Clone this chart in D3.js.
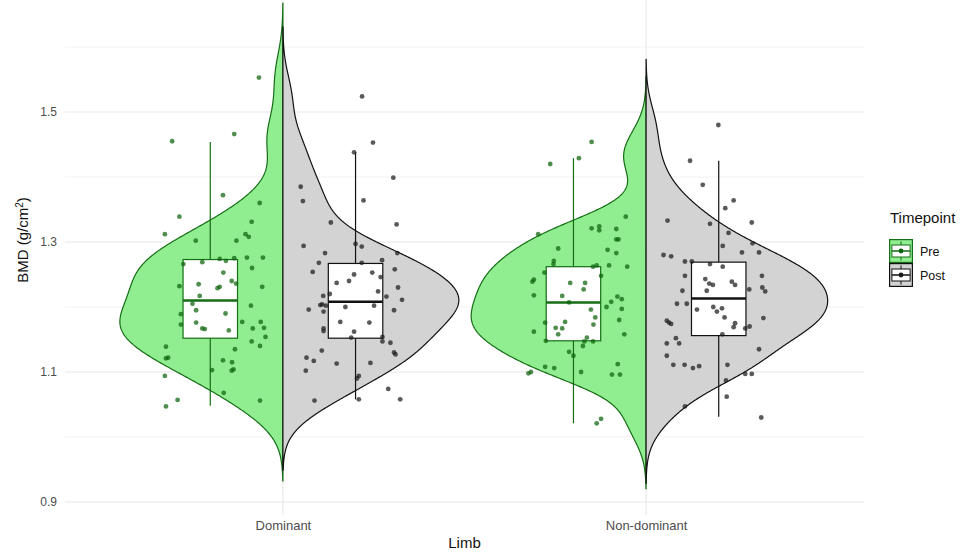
<!DOCTYPE html>
<html>
<head>
<meta charset="utf-8">
<script src="https://cdn.jsdelivr.net/npm/d3@7"></script>
<style>
  body { margin: 0; background: #ffffff; }
  text { font-family: "Liberation Sans", Arial, Helvetica, sans-serif; }
</style>
</head>
<body>
<svg id="chart" width="962" height="554"></svg>
<script>
// ---- data -------------------------------------------------------------
const limbs = ["Dominant", "Non-dominant"];
const timepoints = ["Pre", "Post"];

// BMD (g/cm²) of every participant, one array per limb × timepoint
const domPreBMD = [1.553,1.466,1.455,1.372,1.360,1.339,1.331,1.312,1.312,1.308,
  1.302,1.302,1.276,1.276,1.274,1.271,1.275,1.269,1.266,1.260,
  1.253,1.240,1.236,1.235,1.232,1.231,1.229,1.231,1.217,1.205,
  1.202,1.195,1.190,1.189,1.177,1.177,1.176,1.173,1.168,1.167,
  1.167,1.166,1.164,1.154,1.147,1.140,1.139,1.135,1.122,1.121,
  1.118,1.115,1.104,1.103,1.102,1.094,1.068,1.057,1.056,1.047];
const domPostBMD = [1.524,1.453,1.438,1.399,1.385,1.363,1.364,1.327,1.330,1.294,
  1.297,1.293,1.283,1.268,1.254,1.268,1.272,1.283,1.258,1.250,
  1.253,1.246,1.240,1.237,1.230,1.224,1.211,1.216,1.217,1.220,
  1.204,1.203,1.202,1.196,1.193,1.200,1.202,1.195,1.177,1.176,
  1.167,1.163,1.162,1.153,1.154,1.147,1.145,1.133,1.130,1.127,
  1.122,1.117,1.113,1.114,1.102,1.094,1.090,1.074,1.056,1.058,1.058];
const nonDomPreBMD = [1.454,1.429,1.420,1.339,1.321,1.324,1.318,1.320,1.312,1.304,
  1.304,1.290,1.288,1.283,1.271,1.266,1.262,1.264,1.264,1.262,
  1.253,1.248,1.239,1.242,1.237,1.237,1.227,1.218,1.217,1.207,
  1.200,1.208,1.216,1.212,1.196,1.197,1.184,1.177,1.176,1.180,
  1.173,1.168,1.167,1.158,1.162,1.158,1.153,1.147,1.140,1.148,
  1.147,1.131,1.125,1.108,1.106,1.100,1.098,1.100,1.096,1.096,
  1.112,1.028,1.021];
const nonDomPostBMD = [1.480,1.425,1.388,1.364,1.352,1.333,1.328,1.330,1.314,1.298,
  1.294,1.280,1.278,1.284,1.284,1.270,1.270,1.266,1.262,1.248,
  1.243,1.236,1.234,1.239,1.234,1.248,1.230,1.224,1.227,1.225,
  1.225,1.205,1.205,1.196,1.200,1.193,1.198,1.184,1.175,1.169,
  1.167,1.170,1.183,1.179,1.176,1.174,1.158,1.152,1.144,1.144,
  1.125,1.135,1.111,1.111,1.106,1.109,1.111,1.097,1.097,1.087,
  1.062,1.047,1.030];

// horizontal jitter of each point, in category units from the limb centre
const domPreJitter = [-0.066,-0.134,-0.305,-0.165,-0.064,-0.285,-0.086,-0.325,-0.103,-0.094,
  -0.240,-0.128,-0.099,-0.055,-0.174,-0.157,-0.134,-0.222,-0.274,-0.085,
  -0.164,-0.141,-0.129,-0.232,-0.285,-0.174,-0.180,-0.057,-0.229,-0.249,
  -0.088,-0.239,-0.158,-0.281,-0.112,-0.061,-0.239,-0.281,-0.052,-0.222,
  -0.083,-0.215,-0.149,-0.048,-0.086,-0.063,-0.322,-0.132,-0.316,-0.322,
  -0.165,-0.140,-0.136,-0.195,-0.141,-0.325,-0.163,-0.290,-0.063,-0.322];
const domPostJitter = [0.218,0.248,0.196,0.304,0.049,0.055,0.222,0.313,0.132,0.057,
  0.200,0.217,0.116,0.099,0.082,0.217,0.273,0.315,0.308,0.196,
  0.246,0.269,0.182,0.148,0.317,0.262,0.328,0.285,0.111,0.129,
  0.108,0.103,0.118,0.071,0.112,0.172,0.251,0.306,0.158,0.238,
  0.112,0.112,0.196,0.188,0.274,0.274,0.296,0.107,0.306,0.310,
  0.065,0.085,0.148,0.241,0.063,0.209,0.204,0.290,0.087,0.209,0.323];
const nonDomPreJitter = [-0.150,-0.185,-0.264,-0.056,-0.150,-0.129,-0.129,-0.082,-0.297,-0.082,
  -0.076,-0.242,-0.106,-0.082,-0.254,-0.255,-0.146,-0.136,-0.102,-0.052,
  -0.280,-0.124,-0.313,-0.309,-0.209,-0.168,-0.172,-0.309,-0.231,-0.212,
  -0.109,-0.096,-0.079,-0.067,-0.152,-0.067,-0.140,-0.223,-0.278,-0.074,
  -0.145,-0.249,-0.231,-0.242,-0.309,-0.060,-0.163,-0.170,-0.174,-0.276,
  -0.146,-0.212,-0.200,-0.278,-0.253,-0.179,-0.324,-0.317,-0.094,-0.072,
  -0.078,-0.124,-0.136];
const nonDomPostJitter = [0.199,0.121,0.156,0.241,0.218,0.059,0.176,0.291,0.227,0.293,
  0.211,0.048,0.069,0.264,0.311,0.107,0.126,0.176,0.211,0.107,
  0.163,0.174,0.184,0.236,0.245,0.319,0.320,0.328,0.284,0.167,
  0.100,0.085,0.112,0.140,0.185,0.195,0.209,0.216,0.245,0.241,
  0.273,0.285,0.323,0.057,0.063,0.069,0.210,0.082,0.091,0.057,
  0.057,0.311,0.075,0.106,0.129,0.146,0.224,0.273,0.291,0.220,
  0.222,0.107,0.317];

// box-plot summaries: [lower whisker, Q1, median, Q3, upper whisker]
const domPreBox     = [1.048, 1.152, 1.210, 1.273, 1.454];
const domPostBox    = [1.058, 1.152, 1.208, 1.267, 1.438];
const nonDomPreBox  = [1.021, 1.148, 1.207, 1.262, 1.429];
const nonDomPostBox = [1.031, 1.156, 1.213, 1.269, 1.425];

const yTicks = [0.9, 1.1, 1.3, 1.5];
const yMinorTicks = [1.0, 1.2, 1.4, 1.6];

// ---- assembled groups -------------------------------------------------
const groups = [
  { limb: "Dominant",     time: "Pre",  values: domPreBMD,     jitter: domPreJitter,     box: domPreBox },
  { limb: "Dominant",     time: "Post", values: domPostBMD,    jitter: domPostJitter,    box: domPostBox },
  { limb: "Non-dominant", time: "Pre",  values: nonDomPreBMD,  jitter: nonDomPreJitter,  box: nonDomPreBox },
  { limb: "Non-dominant", time: "Post", values: nonDomPostBMD, jitter: nonDomPostJitter, box: nonDomPostBox }
];

const style = {
  Pre:  { fill: "#90ee90", line: "#156d15", point: "#0d620d", side: -1 },
  Post: { fill: "#d3d3d3", line: "#111111", point: "#1a1a1a", side: 1 }
};

// ---- layout -----------------------------------------------------------
const panel = { left: 65, right: 864, top: -18, bottom: 515 };
const svg = d3.select("#chart");

const x = d3.scalePoint().domain(limbs).range([panel.left, panel.right]).padding(0.6);
const step = x.step();
const y = d3.scaleLinear().domain([0.88, 1.7]).range([panel.bottom, panel.top]);

const dodge = 0.2, boxWidth = 0.15, violinWidth = 1.0;

// ---- gridlines --------------------------------------------------------
const grid = svg.append("g");
grid.selectAll("line.minor").data(yMinorTicks).join("line")
  .attr("x1", panel.left).attr("x2", panel.right)
  .attr("y1", d => y(d)).attr("y2", d => y(d))
  .attr("stroke", "#ededed").attr("stroke-width", 0.7);
grid.selectAll("line.major").data(yTicks).join("line")
  .attr("x1", panel.left).attr("x2", panel.right)
  .attr("y1", d => y(d)).attr("y2", d => y(d))
  .attr("stroke", "#e8e8e8").attr("stroke-width", 1.1);
grid.selectAll("line.vmajor").data(limbs).join("line")
  .attr("x1", d => x(d)).attr("x2", d => x(d))
  .attr("y1", 0).attr("y2", panel.bottom)
  .attr("stroke", "#e8e8e8").attr("stroke-width", 1.1);

// ---- kernel density (gaussian, nrd0 bandwidth, tails cut at 3 bw) -------
function bwNrd0(v) {
  const s = [...v].sort(d3.ascending);
  const iqr = d3.quantileSorted(s, 0.75) - d3.quantileSorted(s, 0.25);
  return 0.9 * Math.min(d3.deviation(v), iqr / 1.34) * Math.pow(v.length, -0.2);
}
function kde(v, n = 512) {
  const bw = bwNrd0(v);
  const lo = d3.min(v) - 3 * bw, hi = d3.max(v) + 3 * bw;
  const k = 1 / (v.length * bw * Math.sqrt(2 * Math.PI));
  return d3.range(n).map(i => {
    const t = lo + (hi - lo) * i / (n - 1);
    let s = 0;
    for (const xi of v) { const z = (t - xi) / bw; s += Math.exp(-0.5 * z * z); }
    return [t, s * k];
  });
}
groups.forEach(g => { g.density = kde(g.values); });
const maxDens = d3.max(groups, g => d3.max(g.density, d => d[1]));

// ---- split violins ----------------------------------------------------
const violins = svg.append("g");
groups.forEach(g => {
  const st = style[g.time];
  const cx = x(g.limb);
  const half = d => st.side * (d[1] / maxDens) * violinWidth / 2 * step;
  const outline = g.density.map(d => [cx + half(d), y(d[0])]);
  const first = g.density[0], last = g.density[g.density.length - 1];
  outline.push([cx, y(last[0])], [cx, y(first[0])]);
  violins.append("path")
    .attr("d", d3.line()(outline) + "Z")
    .attr("fill", st.fill)
    .attr("stroke", st.line)
    .attr("stroke-width", 1.2)
    .attr("stroke-linejoin", "round");
});

// ---- box plots --------------------------------------------------------
const boxes = svg.append("g");
groups.forEach(g => {
  const st = style[g.time];
  const bx = x(g.limb) + st.side * dodge * step;
  const bw = boxWidth * step;
  const [lo, q1, med, q3, hi] = g.box;
  const b = boxes.append("g").attr("stroke", st.line);
  b.append("line").attr("x1", bx).attr("x2", bx).attr("y1", y(hi)).attr("y2", y(q3)).attr("stroke-width", 1.2);
  b.append("line").attr("x1", bx).attr("x2", bx).attr("y1", y(q1)).attr("y2", y(lo)).attr("stroke-width", 1.2);
  b.append("rect").attr("x", bx - bw / 2).attr("width", bw)
    .attr("y", y(q3)).attr("height", y(q1) - y(q3))
    .attr("fill", "#ffffff").attr("stroke-width", 1.2);
  b.append("line").attr("x1", bx - bw / 2).attr("x2", bx + bw / 2)
    .attr("y1", y(med)).attr("y2", y(med)).attr("stroke-width", 2.4);
});

// ---- jittered points --------------------------------------------------
const pts = svg.append("g");
groups.forEach(g => {
  const st = style[g.time];
  pts.selectAll(null).data(g.values).join("circle")
    .attr("cx", (d, i) => x(g.limb) + g.jitter[i] * step)
    .attr("cy", d => y(d))
    .attr("r", 2.4)
    .attr("fill", st.point)
    .attr("fill-opacity", 0.72);
});

// ---- axes -------------------------------------------------------------
const yAxis = svg.append("g")
  .attr("transform", `translate(${panel.left - 4},0)`)
  .call(d3.axisLeft(y).tickValues(yTicks).tickSize(0).tickPadding(4).tickFormat(d3.format(".1f")));
yAxis.select(".domain").remove();
yAxis.selectAll("text").attr("fill", "#4d4d4d").style("font-size", "12px");

const xAxis = svg.append("g")
  .attr("transform", `translate(0,${panel.bottom})`)
  .call(d3.axisBottom(x).tickSize(0).tickPadding(6));
xAxis.select(".domain").remove();
xAxis.selectAll("text").attr("fill", "#4d4d4d").style("font-size", "13px");

svg.append("text")
  .attr("x", (panel.left + panel.right) / 2).attr("y", 548)
  .attr("text-anchor", "middle").attr("font-size", 15).attr("fill", "#111")
  .text("Limb");

const yTitle = svg.append("text")
  .attr("transform", "translate(28,240) rotate(-90)")
  .attr("text-anchor", "middle").attr("font-size", 15).attr("fill", "#111");
yTitle.append("tspan").text("BMD (g/cm");
yTitle.append("tspan").attr("baseline-shift", "super").attr("font-size", 10).text("2");
yTitle.append("tspan").text(")");

// ---- legend -----------------------------------------------------------
const legend = svg.append("g").attr("transform", "translate(889,239)");
legend.append("text").attr("x", 1).attr("y", -16).attr("font-size", 15).attr("fill", "#111").text("Timepoint");
const keyW = 24, keyH = 24;
timepoints.forEach((t, i) => {
  const st = style[t];
  const k = legend.append("g").attr("transform", `translate(0,${i * keyH})`);
  k.append("rect").attr("x", 0.6).attr("y", 0.6).attr("width", keyW - 1.2).attr("height", keyH - 1.2)
    .attr("fill", st.fill).attr("stroke", st.line).attr("stroke-width", 1.2);
  k.append("line").attr("x1", keyW / 2).attr("x2", keyW / 2).attr("y1", keyH * 0.1).attr("y2", keyH * 0.25)
    .attr("stroke", st.line);
  k.append("line").attr("x1", keyW / 2).attr("x2", keyW / 2).attr("y1", keyH * 0.75).attr("y2", keyH * 0.9)
    .attr("stroke", st.line);
  k.append("rect").attr("x", keyW * 0.12).attr("y", keyH * 0.25).attr("width", keyW * 0.76).attr("height", keyH * 0.5)
    .attr("fill", "#ffffff").attr("stroke", st.line);
  k.append("line").attr("x1", keyW * 0.12).attr("x2", keyW * 0.88).attr("y1", keyH / 2).attr("y2", keyH / 2)
    .attr("stroke", st.line).attr("stroke-width", 1.5);
  k.append("circle").attr("cx", keyW / 2).attr("cy", keyH / 2).attr("r", 2.4).attr("fill", st.point);
  legend.append("text").attr("x", keyW + 7).attr("y", i * keyH + keyH / 2 + 4.5)
    .attr("font-size", 12.5).attr("fill", "#111").text(t);
});
</script>
</body>
</html>
